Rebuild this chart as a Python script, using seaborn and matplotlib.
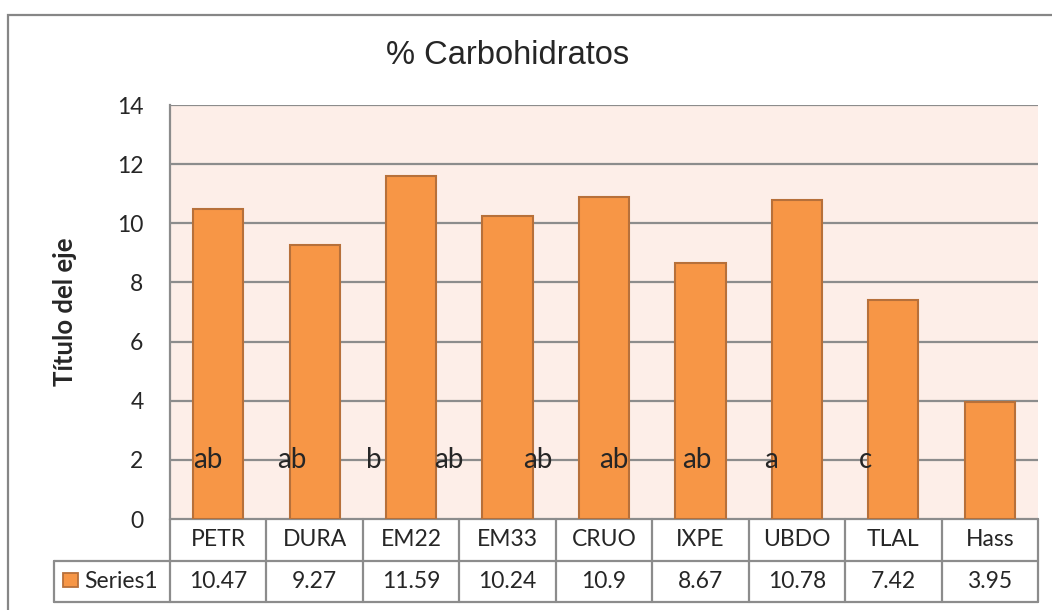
import matplotlib
matplotlib.use("Agg")
import matplotlib.pyplot as plt
from matplotlib.patches import Rectangle
from matplotlib.lines import Line2D
import seaborn as sns
import pandas as pd

categories = ["PETR", "DURA", "EM22", "EM33", "CRUO", "IXPE", "UBDO", "TLAL", "Hass"]
values = [10.47, 9.27, 11.59, 10.24, 10.9, 8.67, 10.78, 7.42, 3.95]
letters = ["ab", "ab", "b", "ab", "ab", "ab", "ab", "a", "c"]
series_name = "Series1"
title = "% Carbohidratos"
ylabel = "Título del eje"
yticks = [0, 2, 4, 6, 8, 10, 12, 14]

sns.set_style("white")
plt.rcParams["font.family"] = ["Lato", "DejaVu Sans"]

W, H = 1052, 610
fig = plt.figure(figsize=(W / 100, H / 100), dpi=100)

L, R, T, B = 170, 1038, 105, 519
ax = fig.add_axes([L / W, 1 - B / H, (R - L) / W, (B - T) / H])

grid_col = "#8C8C8C"
bar_col = "#F79646"
edge_col = "#B7703A"

df = pd.DataFrame({"cat": categories, "val": values})
sns.barplot(data=df, x="cat", y="val", color=bar_col, edgecolor=edge_col,
            linewidth=1.5, width=0.52, saturation=1, ax=ax, zorder=3)

ax.set_facecolor("#FDEEE8")
ax.set_xlim(-0.5, len(categories) - 0.5)
ax.set_ylim(0, 14)
ax.set_yticks(yticks)
ax.set_yticklabels([str(t) for t in yticks], fontsize=16.5)
ax.tick_params(axis="y", length=0, pad=19)
ax.set_xticks([])
ax.set_xlabel("")
ax.set_ylabel(ylabel, fontsize=18.5, fontweight="bold", labelpad=29)
for t in yticks[1:]:
    ax.axhline(t, color=grid_col, lw=1.6, zorder=1)
for s in ["top", "right", "bottom"]:
    ax.spines[s].set_visible(False)
ax.spines["left"].set_color(grid_col)
ax.spines["left"].set_linewidth(1.6)

# significance letters (text left edges relative to category centre)
letter_dx = [-0.26, -0.39, -0.47, -0.76, -0.84, -1.05, -1.19, -1.34, -1.36]
for i, (lt, dx) in enumerate(zip(letters, letter_dx)):
    ax.text(i + dx, 2, lt, ha="left", va="center", fontsize=20, zorder=5)

# data table below the axes
ph = B - T
r1 = -(561 - B) / ph
r2 = -(602 - B) / ph
xt = ax.get_xaxis_transform()
n = len(categories)
for i, (c, v) in enumerate(zip(categories, values)):
    ax.text(i, r1 / 2, c, transform=xt, ha="center", va="center", fontsize=16.5)
    ax.text(i, (r1 + r2) / 2, f"{v:g}", transform=xt, ha="center", va="center", fontsize=16.5)
for k in range(n + 1):
    ax.add_line(Line2D([k - 0.5, k - 0.5], [0, r2], transform=xt, color=grid_col,
                       lw=1.6, clip_on=False))
ta = ax.transAxes
left_cell = (54 - L) / (R - L)
ax.add_line(Line2D([0, 1], [0, 0], transform=ta, color=grid_col, lw=1.6, clip_on=False))
for yy in (r1, r2):
    ax.add_line(Line2D([left_cell, 1], [yy, yy], transform=ta, color=grid_col, lw=1.6, clip_on=False))
ax.add_line(Line2D([left_cell, left_cell], [r1, r2], transform=ta, color=grid_col, lw=1.6, clip_on=False))
sq_x0 = (63 - L) / (R - L)
sq_w = 15 / (R - L)
sq_y0 = -(587 - B) / ph
sq_h = 14 / ph
ax.add_patch(Rectangle((sq_x0, sq_y0), sq_w, sq_h, transform=ta, facecolor=bar_col,
                       edgecolor=edge_col, lw=1.3, clip_on=False))
ax.text((84 - L) / (R - L), (r1 + r2) / 2, series_name, transform=ta, ha="left",
        va="center", fontsize=16.5)

# title
fig.text(508 / W, 1 - 56 / H, title, ha="center", va="center", fontsize=23.5,
         family=["Liberation Sans", "DejaVu Sans"])

# outer chart border (clipped at right and bottom)
fig.patches.append(Rectangle((8 / W, -0.2), 1.2, 1.2 - 15 / H, transform=fig.transFigure,
                             fill=False, edgecolor="#868686", lw=1.6))

fig.savefig("out.png", dpi=100)
